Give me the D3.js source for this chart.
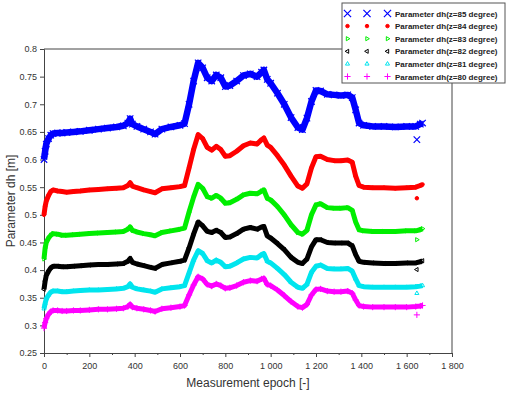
<!DOCTYPE html>
<html>
<head>
<meta charset="utf-8">
<script src="https://cdn.jsdelivr.net/npm/d3@7"></script>
<style>
  body { margin: 0; background: #fff; }
  text { font-family: "Liberation Sans", Arial, sans-serif; }
</style>
</head>
<body>
<div id="vis"></div>
<script>
const WIDTH = 509;
const HEIGHT = 397;

const MARGIN = { top: 49, bottom: 44, right: 57, left: 44 };

// epochs shared by every series
const epochs = [0, 5, 10, 20, 30, 40, 60, 80, 100, 130, 160, 200, 240, 280, 320, 350, 370, 380, 390, 410,
  440, 470, 490, 520, 560, 600, 620, 640, 660, 680, 700, 720, 740, 760, 780, 800, 820, 850, 880, 910,
  940, 960, 970, 985, 1000, 1030, 1060, 1090, 1120, 1140, 1160, 1180, 1200, 1220, 1250, 1280, 1310, 1340, 1360, 1375,
  1390, 1410, 1450, 1500, 1550, 1600, 1640, 1660, 1670];

const dh85 = [0.600, 0.615, 0.628, 0.638, 0.644, 0.647, 0.648, 0.648, 0.649, 0.650, 0.651, 0.653, 0.655, 0.657, 0.659, 0.661, 0.666, 0.674, 0.664, 0.660,
  0.655, 0.650, 0.646, 0.655, 0.659, 0.662, 0.665, 0.700, 0.742, 0.775, 0.766, 0.748, 0.742, 0.753, 0.748, 0.732,
  0.734, 0.742, 0.752, 0.755, 0.750, 0.758, 0.762, 0.745, 0.738, 0.720, 0.700, 0.676, 0.658, 0.654, 0.675, 0.705, 0.725, 0.724,
  0.718, 0.717, 0.716, 0.717, 0.712, 0.690, 0.666, 0.662, 0.660, 0.660, 0.659, 0.660, 0.660, 0.664, 0.666];
const dh84 = [0.500, 0.515, 0.525, 0.535, 0.542, 0.545, 0.543, 0.542, 0.541, 0.542, 0.543, 0.545, 0.546, 0.547, 0.548, 0.549, 0.553, 0.558, 0.552, 0.549,
  0.545, 0.542, 0.540, 0.547, 0.549, 0.551, 0.553, 0.585, 0.618, 0.645, 0.638, 0.622, 0.617, 0.624, 0.618, 0.606,
  0.607, 0.615, 0.625, 0.630, 0.628, 0.636, 0.639, 0.626, 0.622, 0.607, 0.590, 0.570, 0.552, 0.548, 0.556, 0.585, 0.605, 0.606,
  0.600, 0.598, 0.598, 0.599, 0.595, 0.570, 0.553, 0.550, 0.549, 0.549, 0.548, 0.549, 0.550, 0.553, 0.555];
const dh83 = [0.420, 0.440, 0.450, 0.458, 0.463, 0.466, 0.465, 0.463, 0.463, 0.464, 0.465, 0.466, 0.467, 0.468, 0.469, 0.470, 0.474, 0.478, 0.472, 0.469,
  0.466, 0.464, 0.462, 0.468, 0.471, 0.474, 0.476, 0.505, 0.532, 0.555, 0.548, 0.533, 0.530, 0.535, 0.530, 0.521,
  0.522, 0.528, 0.536, 0.539, 0.538, 0.543, 0.545, 0.530, 0.527, 0.515, 0.500, 0.482, 0.468, 0.465, 0.472, 0.500, 0.518, 0.520,
  0.513, 0.512, 0.512, 0.513, 0.508, 0.487, 0.473, 0.471, 0.470, 0.470, 0.470, 0.471, 0.471, 0.473, 0.475];
const dh82 = [0.365, 0.380, 0.390, 0.398, 0.404, 0.407, 0.407, 0.406, 0.406, 0.407, 0.408, 0.409, 0.410, 0.410, 0.411, 0.412, 0.416, 0.421, 0.414, 0.411,
  0.408, 0.405, 0.403, 0.410, 0.413, 0.416, 0.418, 0.440, 0.465, 0.487, 0.480, 0.470, 0.468, 0.472, 0.468, 0.459,
  0.460, 0.466, 0.474, 0.477, 0.474, 0.478, 0.479, 0.462, 0.458, 0.448, 0.437, 0.423, 0.414, 0.412, 0.420, 0.442, 0.455, 0.455,
  0.450, 0.449, 0.449, 0.449, 0.444, 0.428, 0.416, 0.414, 0.413, 0.412, 0.412, 0.413, 0.413, 0.415, 0.417];
const dh81 = [0.330, 0.340, 0.348, 0.355, 0.360, 0.362, 0.362, 0.361, 0.361, 0.362, 0.363, 0.364, 0.364, 0.365, 0.366, 0.367, 0.370, 0.375, 0.369, 0.366,
  0.364, 0.362, 0.360, 0.366, 0.368, 0.370, 0.372, 0.395, 0.418, 0.435, 0.430, 0.417, 0.413, 0.418, 0.414, 0.406,
  0.407, 0.413, 0.420, 0.423, 0.422, 0.428, 0.430, 0.416, 0.413, 0.403, 0.392, 0.378, 0.369, 0.367, 0.374, 0.396, 0.407, 0.409,
  0.403, 0.402, 0.402, 0.403, 0.398, 0.384, 0.372, 0.370, 0.369, 0.369, 0.369, 0.369, 0.370, 0.371, 0.372];
const dh80 = [0.295, 0.305, 0.312, 0.320, 0.325, 0.327, 0.327, 0.326, 0.326, 0.327, 0.327, 0.328, 0.329, 0.329, 0.330, 0.331, 0.334, 0.338, 0.333, 0.331,
  0.329, 0.327, 0.325, 0.330, 0.332, 0.334, 0.336, 0.355, 0.373, 0.388, 0.384, 0.374, 0.371, 0.375, 0.372, 0.367,
  0.368, 0.372, 0.378, 0.381, 0.380, 0.384, 0.385, 0.374, 0.372, 0.364, 0.354, 0.343, 0.334, 0.332, 0.338, 0.355, 0.365, 0.366,
  0.362, 0.361, 0.361, 0.362, 0.358, 0.346, 0.336, 0.334, 0.333, 0.333, 0.333, 0.333, 0.334, 0.335, 0.336];

// isolated point near the end of each series
const outlierEpoch = 1645;
const outliers = [0.636, 0.530, 0.455, 0.401, 0.358, 0.319];

const seriesNames = ["Parameter dh(z=85 degree)", "Parameter dh(z=84 degree)", "Parameter dh(z=83 degree)",
  "Parameter dh(z=82 degree)", "Parameter dh(z=81 degree)", "Parameter dh(z=80 degree)"];
const seriesValues = [dh85, dh84, dh83, dh82, dh81, dh80];
const seriesColors = ["#0000ff", "#ff0000", "#00ee00", "#000000", "#00e5ee", "#ff00ff"];

const xTicks = [0, 200, 400, 600, 800, 1000, 1200, 1400, 1600, 1800];
const yTicks = [0.25, 0.3, 0.35, 0.4, 0.45, 0.5, 0.55, 0.6, 0.65, 0.7, 0.75, 0.8];

const SVG = d3.select("#vis")
  .append("svg")
  .attr("width", WIDTH)
  .attr("height", HEIGHT);

const innerW = WIDTH - MARGIN.left - MARGIN.right;
const innerH = HEIGHT - MARGIN.top - MARGIN.bottom;

const x = d3.scaleLinear().domain([0, 1800]).range([0, innerW]);
const y = d3.scaleLinear().domain([0.25, 0.8]).range([innerH, 0]);

const plot = SVG.append("g")
  .attr("transform", `translate(${MARGIN.left}, ${MARGIN.top})`);

const spaceFormat = d3.formatLocale({ decimal: ".", thousands: "\u00a0", grouping: [3], currency: ["", ""] }).format(",");

// frame (top and right)
plot.append("path")
  .attr("d", `M0,0H${innerW}V${innerH}`)
  .attr("fill", "none")
  .attr("stroke", "#444")
  .attr("stroke-width", 1);

// minor x ticks
plot.append("g")
  .attr("transform", `translate(0, ${innerH})`)
  .call(d3.axisBottom(x).tickValues(d3.range(100, 1800, 200)).tickSize(2).tickFormat(""))
  .call(g => g.select(".domain").remove())
  .call(g => g.selectAll("line").attr("stroke", "#444"));

const xAxis = plot.append("g")
  .attr("transform", `translate(0, ${innerH})`)
  .call(d3.axisBottom(x).tickValues(xTicks).tickSize(4).tickPadding(6).tickFormat(spaceFormat));

const yAxis = plot.append("g")
  .call(d3.axisLeft(y).tickValues(yTicks).tickSize(4).tickPadding(3).tickFormat(d => String(d)));

[xAxis, yAxis].forEach(a => {
  a.select(".domain").attr("stroke", "#444");
  a.selectAll(".tick line").attr("stroke", "#444");
  a.selectAll(".tick text").attr("fill", "#333").style("font-size", "9px");
});

SVG.append("text")
  .attr("x", MARGIN.left + innerW / 2)
  .attr("y", 387)
  .attr("text-anchor", "middle")
  .attr("fill", "#333")
  .style("font-size", "12px")
  .text("Measurement epoch [-]");

SVG.append("text")
  .attr("transform", `translate(15, ${MARGIN.top + innerH / 2}) rotate(-90)`)
  .attr("text-anchor", "middle")
  .attr("fill", "#333")
  .style("font-size", "12px")
  .text("Parameter dh [m]");

function markerPath(i, size) {
  if (i == 0) return d3.symbol(d3.symbolTimes, size * 1.6)();
  if (i == 1) return d3.symbol(d3.symbolCircle, size * 0.8)();
  if (i == 5) return d3.symbol(d3.symbolPlus, size * 1.2)();
  return d3.symbol(d3.symbolTriangle2, size)();
}

function markerRotation(i) {
  if (i == 2) return 90;
  if (i == 3) return -90;
  return 0;
}

function drawMarkers(sel, i, size) {
  sel.attr("d", markerPath(i, size))
    .attr("fill", i == 1 ? seriesColors[i] : "none")
    .attr("stroke", seriesColors[i])
    .attr("stroke-width", i == 0 ? 1.2 : 1);
}

const line = d3.line()
  .x(d => x(d[0]))
  .y(d => y(d[1]));

seriesValues.forEach((vals, i) => {
  const pts = epochs.map((e, k) => [e, vals[k]]);
  const g = plot.append("g");

  g.append("path")
    .datum(pts)
    .attr("d", line)
    .attr("fill", "none")
    .attr("stroke", seriesColors[i])
    .attr("stroke-width", i == 0 ? 6.5 : 5)
    .attr("stroke-linejoin", "round");

  g.selectAll("path.mk")
    .data(pts.concat([[outlierEpoch, outliers[i]]]))
    .join("path")
    .attr("class", "mk")
    .attr("transform", d => `translate(${x(d[0])}, ${y(d[1])}) rotate(${markerRotation(i)})`)
    .call(sel => drawMarkers(sel, i, i == 0 ? 18 : 12));
});

// legend
const legend = SVG.append("g").attr("transform", "translate(342, 3)");

legend.append("rect")
  .attr("width", 163)
  .attr("height", 80)
  .attr("fill", "#fff")
  .attr("stroke", "#555")
  .attr("stroke-width", 1);

const rows = legend.selectAll("g.row")
  .data(seriesNames)
  .join("g")
  .attr("class", "row")
  .attr("transform", (d, i) => `translate(0, ${10.5 + i * 12.6})`);

rows.each(function (d, i) {
  const row = d3.select(this);
  [5.5, 25, 45.5].forEach(mx => {
    row.append("path")
      .attr("transform", `translate(${mx}, 0) rotate(${markerRotation(i)})`)
      .call(sel => drawMarkers(sel, i, i == 0 ? 22 : 12));
  });
  row.append("text")
    .attr("x", 53)
    .attr("y", 3)
    .attr("fill", "#222")
    .style("font-size", "8px")
    .style("font-weight", "bold")
    .text(d);
});
</script>
</body>
</html>
